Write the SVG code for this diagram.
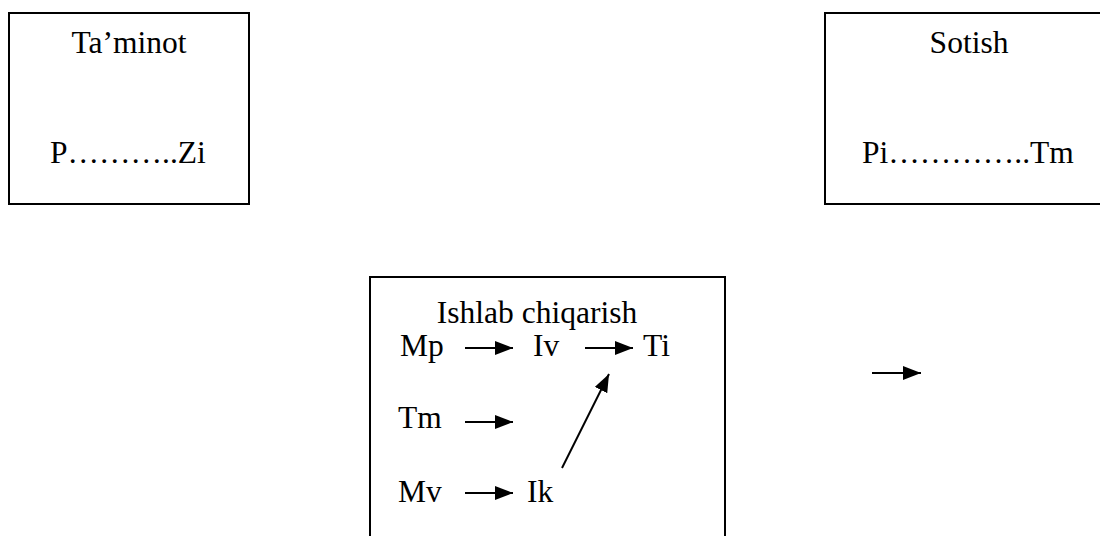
<svg xmlns="http://www.w3.org/2000/svg" width="1100" height="536" viewBox="0 0 1100 536">
<style>
.box{fill:#fff;stroke:#000;stroke-width:2}
.t{font-family:"Liberation Serif","Times New Roman",serif;font-size:31.5px;fill:#000}
.c{text-anchor:middle}
.ar{stroke:#000;stroke-width:2;fill:none;marker-end:url(#ah)}
</style>
<defs>
<marker id="ah" markerUnits="userSpaceOnUse" markerWidth="19" markerHeight="14" refX="18" refY="7" orient="auto" viewBox="0 0 19 14">
<path d="M0,0 L18,7 L0,14 z" fill="#000"/>
</marker>
</defs>
<rect width="1100" height="536" fill="#fff"/>
<g id="taminot">
<rect class="box" x="9" y="13" width="240" height="191"/>
<text class="t c" x="129" y="53">Ta’minot</text>
<text class="t" x="50" y="163">P………..Zi</text>
</g>
<g id="sotish">
<rect class="box" x="825" y="13" width="290" height="191"/>
<text class="t c" x="969" y="53">Sotish</text>
<text class="t" x="862" y="163">Pi…………..Tm</text>
</g>
<g id="ishlab">
<rect class="box" x="370" y="277" width="355" height="280"/>
<text class="t c" x="537" y="323">Ishlab chiqarish</text>
<text class="t" x="400" y="356">Mp</text>
<text class="t" x="533" y="356">Iv</text>
<text class="t" x="643" y="356">Ti</text>
<text class="t" x="398" y="428">Tm</text>
<text class="t" x="398" y="502">Mv</text>
<text class="t" x="527" y="502">Ik</text>
</g>
<g id="connectors">
<line class="ar" x1="465" y1="348" x2="513" y2="348"/>
<line class="ar" x1="585" y1="348" x2="633" y2="348"/>
<line class="ar" x1="465" y1="422" x2="513" y2="422"/>
<line class="ar" x1="465" y1="493" x2="513" y2="493"/>
<line class="ar" x1="562" y1="468" x2="609" y2="374"/>
<line class="ar" x1="872" y1="373" x2="921" y2="373"/>
</g>
</svg>
